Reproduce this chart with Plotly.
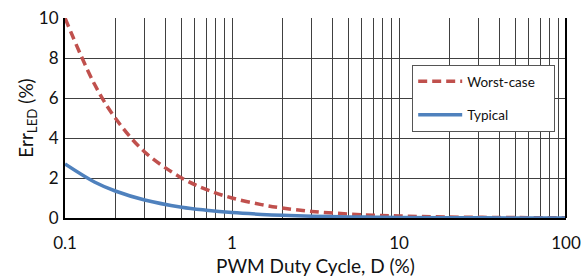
import plotly.graph_objects as go

duty = [0.1, 0.15, 0.2, 0.3, 0.5, 0.7, 1, 1.5, 2, 3, 5, 7, 10, 20, 50, 100]
worst_case = [10, 6.7, 5, 3.3, 2, 1.43, 1, 0.67, 0.5, 0.33, 0.2, 0.14, 0.1, 0.05, 0.02, 0.01]
typical = [2.7, 1.8, 1.35, 0.9, 0.54, 0.39, 0.27, 0.18, 0.135, 0.09, 0.054, 0.039, 0.027, 0.0135, 0.005, 0.003]

x_grid = [m * 10 ** e for e in (-1, 0, 1) for m in range(1, 10)] + [100]
x_labels = {0.1: "0.1", 1: "1", 10: "10", 100: "100"}
y_ticks = [0, 2, 4, 6, 8, 10]
x_title = "PWM Duty Cycle, D (%)"
y_title = "Err<sub>LED</sub> (%)"

FONT = "Lato"
PAD = "\u00a0" * 4

fig = go.Figure()
fig.add_trace(go.Scatter(x=duty, y=worst_case, mode="lines", name="Worst-case" + PAD, legendgroup="a",
                         line=dict(color="#C0504D", width=3.5, dash="9px,5px", shape="spline")))
fig.add_trace(go.Scatter(x=duty, y=typical, mode="lines", name="Typical", legendgroup="b",
                         line=dict(color="#4F81BD", width=3.5, shape="spline")))

ticktext = []
for v in x_grid:
    lab = ""
    for k, t in x_labels.items():
        if abs(k - v) < 1e-9:
            lab = t
    ticktext.append(lab)

fig.update_layout(
    width=588, height=279,
    margin=dict(l=65, r=22, t=18, b=61, autoexpand=False),
    paper_bgcolor="white", plot_bgcolor="white",
    font=dict(family=FONT, size=17, color="#111111"),
    showlegend=True,
    legend=dict(x=0.693, y=0.765, xanchor="left", yanchor="top",
                bgcolor="white", bordercolor="#555555", borderwidth=1,
                font=dict(family=FONT, size=13.5, color="#111111"),
                tracegroupgap=13, itemwidth=44),
    xaxis=dict(type="log", range=[-1, 2], tickvals=x_grid, ticktext=ticktext,
               showgrid=True, gridcolor="#404040", gridwidth=1,
               showline=True, linecolor="black", linewidth=2,
               ticks="", ticklabelstandoff=9, automargin=False,
               zeroline=False),
    yaxis=dict(range=[0, 10], tickvals=y_ticks,
               showgrid=True, gridcolor="#404040", gridwidth=1,
               showline=True, linecolor="black", linewidth=2,
               ticks="", ticklabelstandoff=1, automargin=False,
               title=dict(text=y_title, font=dict(size=19), standoff=0),
               zeroline=False),
)

fig.add_annotation(text=x_title, xref="paper", yref="paper", x=0.5, y=-0.235,
                   xanchor="center", yanchor="middle", showarrow=False,
                   font=dict(family=FONT, size=19, color="#111111"))

fig.add_shape(type="line", xref="paper", yref="paper", x0=1, x1=1, y0=0, y1=1,
              line=dict(color="black", width=2))

fig.write_html("out.html", config={"displayModeBar": False},
               post_script="document.body.style.margin='0';document.body.style.overflow='hidden';")
